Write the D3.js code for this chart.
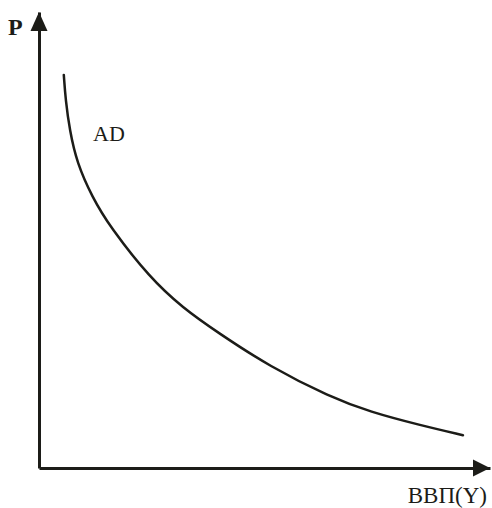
<!DOCTYPE html>
<html>
<head>
<meta charset="utf-8">
<script src="https://cdn.jsdelivr.net/npm/d3@7"></script>
<style>
  body { margin: 0; background: #fff; }
  text { font-family: "Liberation Serif", "DejaVu Serif", serif; fill: #1c1c18; }
</style>
</head>
<body>
<svg id="chart"></svg>
<script>
var width = 492;
var height = 508;

// AD curve (arbitrary units 0..100)
var outputY = [5.5, 5.9, 6.8, 8.4, 11.8, 15.7, 24.6, 31.9, 39.5, 51.2, 64.5, 73.4, 84.5, 94.0];
var priceP  = [86.2, 80.7, 74.1, 66.9, 59.4, 52.9, 41.7, 35.1, 29.8, 22.2, 15.6, 12.3, 9.4, 7.2];

var curveLabel = "AD";
var yAxisLabel = "P";
var xAxisLabel = "ВВП(Y)";

var ink = "#1c1c18";

var svg = d3.select("#chart").attr("width", width).attr("height", height);

var x = d3.scaleLinear().domain([0, 100]).range([39, 490]);
var y = d3.scaleLinear().domain([0, 100]).range([468, 12]);

// axes without ticks
svg.append("g")
    .attr("transform", "translate(0," + y(0) + ")")
    .call(d3.axisBottom(x).tickValues([]).tickSizeOuter(0));
svg.append("g")
    .attr("transform", "translate(" + x(0) + ",0)")
    .call(d3.axisLeft(y).tickValues([]).tickSizeOuter(0));

svg.selectAll(".domain")
    .attr("stroke", ink)
    .attr("stroke-width", 3);

// arrowheads
svg.append("path")
    .attr("fill", ink)
    .attr("d", "M" + x(0) + "," + y(100) +
               "L" + (x(0) - 8.5) + "," + (y(100) + 19) +
               "L" + (x(0) + 8.5) + "," + (y(100) + 19) + "Z");
svg.append("path")
    .attr("fill", ink)
    .attr("d", "M" + x(100) + "," + y(0) +
               "L" + (x(100) - 17) + "," + (y(0) - 8.5) +
               "L" + (x(100) - 17) + "," + (y(0) + 8.5) + "Z");

// the curve, smoothed through the read points
var pts = outputY.map(function(d, i) { return [d, priceP[i]]; });
var line = d3.line()
    .x(function(d) { return x(d[0]); })
    .y(function(d) { return y(d[1]); })
    .curve(d3.curveBasis);

svg.append("path")
    .datum(pts)
    .attr("fill", "none")
    .attr("stroke", ink)
    .attr("stroke-width", 2.5)
    .attr("stroke-linecap", "round")
    .attr("d", line);

// labels
svg.append("text")
    .attr("x", 8).attr("y", 35)
    .attr("font-size", 24)
    .attr("font-weight", "bold")
    .text(yAxisLabel);

svg.append("text")
    .attr("x", 93).attr("y", 141)
    .attr("font-size", 22)
    .text(curveLabel);

svg.append("text")
    .attr("x", 487).attr("y", 503)
    .attr("text-anchor", "end")
    .attr("font-size", 23)
    .text(xAxisLabel);
</script>
</body>
</html>
